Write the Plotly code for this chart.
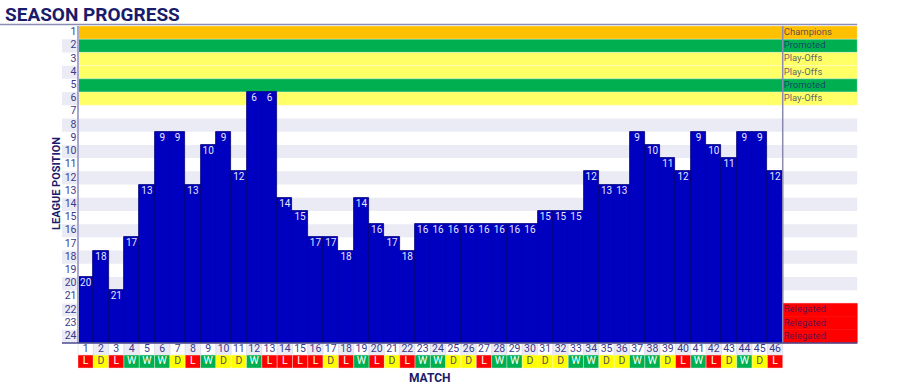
import plotly.graph_objects as go

# ---------------- data ----------------
matches = list(range(1, 47))
positions = [20, 18, 21, 17, 13, 9, 9, 13, 10, 9, 12, 6, 6, 14, 15, 17, 17, 18, 14, 16,
             17, 18, 16, 16, 16, 16, 16, 16, 16, 16, 15, 15, 15, 12, 13, 13, 9, 10, 11, 12,
             9, 10, 11, 9, 9, 12]
results = ["L", "D", "L", "W", "W", "W", "D", "L", "W", "D", "D", "W", "L", "L", "L", "L",
           "D", "L", "W", "L", "D", "L", "W", "W", "D", "D", "L", "W", "W", "D", "D", "D",
           "W", "W", "D", "D", "W", "W", "D", "L", "W", "L", "D", "W", "D", "L"]
league_rows = list(range(1, 25))
zone_rows = [1, 2, 3, 4, 5, 6, 22, 23, 24]
zone_names = ["Champions", "Promoted", "Play-Offs", "Play-Offs", "Promoted", "Play-Offs",
              "Relegated", "Relegated", "Relegated"]

# ---------------- styles ----------------
zone_colors = {"Champions": "#FFC000", "Promoted": "#00B050", "Play-Offs": "#FFFF66",
               "Relegated": "#FF0000"}
result_colors = {"W": "#00B050", "D": "#FFFF00", "L": "#FF0000"}
result_text = {"W": "white", "D": "rgba(30,30,110,0.8)", "L": "white"}
NAVY = "#1B1B6B"
TICK = "#3A3A8C"
STRIPE = "#EBEBF5"
BAR = "#0000C0"
FONT = "Roboto"

n = len(matches)
px_x = 15.32          # pixels per match
px_y = 13.21          # pixels per league row
x_left = 0.5 - 78 / px_x
x_right = 0.5 + 822 / px_x
y_top = 0.5 - 26 / px_y
y_bot = 0.5 + 360 / px_y
lab_x0 = 0.5 - 16 / px_x            # left edge of tick label column
zone_x1 = n + 0.5 + 74.5 / px_x      # right edge of zone label column
num_y0, num_y1 = 24.5, 24.5 + 12 / px_y
res_y0, res_y1 = num_y1, num_y1 + 13 / px_y

shapes = []
for r in league_rows:
    if r % 2 == 0:
        shapes.append(dict(type="rect", xref="x", yref="y", x0=lab_x0, x1=zone_x1,
                           y0=r - 0.5, y1=r + 0.5, fillcolor=STRIPE, line_width=0,
                           layer="below"))
for r, name in zip(zone_rows, zone_names):
    rel = name == "Relegated"
    x0 = n + 0.5 if rel else 0.5
    shapes.append(dict(type="rect", xref="x", yref="y", x0=x0, x1=zone_x1,
                       y0=r - 0.5, y1=r + 0.5, fillcolor=zone_colors[name],
                       line=dict(color=zone_colors[name] if rel else "rgba(255,255,255,0.5)",
                                 width=0.6), layer="below"))
for m, res in zip(matches, results):
    shapes.append(dict(type="rect", xref="x", yref="y", x0=m - 0.5, x1=m + 0.5,
                       y0=num_y0, y1=num_y1,
                       fillcolor=STRIPE if m % 2 == 0 else "white",
                       line=dict(color="#D8D8E4", width=0.6), layer="below"))
    shapes.append(dict(type="rect", xref="x", yref="y", x0=m - 0.5, x1=m + 0.5,
                       y0=res_y0, y1=res_y1, fillcolor=result_colors[res],
                       line=dict(color="rgba(255,255,255,0.6)", width=0.6), layer="below"))
shapes += [
    dict(type="line", xref="x", yref="y", x0=x_left, x1=zone_x1, y0=y_top + 24.6 / px_y,
         y1=y_top + 24.6 / px_y, line=dict(color="#8C8CB4", width=1.5)),
    dict(type="line", xref="x", yref="y", x0=0.5, x1=0.5, y0=0.5, y1=24.5,
         line=dict(color="#A8A8D0", width=2)),
    dict(type="line", xref="x", yref="y", x0=n + 0.5, x1=n + 0.5, y0=0.5, y1=24.5,
         line=dict(color="#8A8AAE", width=1.5)),
    dict(type="line", xref="x", yref="y", x0=lab_x0, x1=zone_x1, y0=24.5, y1=24.5,
         line=dict(color="#4A4A90", width=1.5)),
]

fig = go.Figure()
fig.add_trace(go.Bar(
    x=matches, y=[p - 24.5 - 0.5 for p in positions], base=24.5, width=1,
    marker=dict(color=BAR, line=dict(color="#00007A", width=0.8)),
    hoverinfo="skip", showlegend=False))
fig.add_trace(go.Scatter(
    x=matches, y=positions, mode="text", text=[str(p) for p in positions],
    textfont=dict(family=FONT, size=10, color="#E6E6FF"),
    hoverinfo="skip", showlegend=False))
fig.add_trace(go.Scatter(
    x=[0.5 - 1.5 / px_x] * len(league_rows), y=league_rows, mode="text",
    text=[str(r) for r in league_rows], textposition="middle left",
    textfont=dict(family=FONT, size=10.5, color=TICK),
    hoverinfo="skip", showlegend=False))
fig.add_trace(go.Scatter(
    x=[n + 0.5 + 1.0 / px_x] * len(zone_rows), y=zone_rows, mode="text",
    text=zone_names, textposition="middle right",
    textfont=dict(family=FONT, size=9.5, color="rgba(25,25,110,0.72)"),
    hoverinfo="skip", showlegend=False))
fig.add_trace(go.Scatter(
    x=matches, y=[(num_y0 + num_y1) / 2] * n, mode="text",
    text=[str(m) for m in matches],
    textfont=dict(family=FONT, size=10.5, color=TICK),
    hoverinfo="skip", showlegend=False))
fig.add_trace(go.Scatter(
    x=matches, y=[(res_y0 + res_y1) / 2] * n, mode="text", text=results,
    textfont=dict(family=FONT, size=10.5, color=[result_text[r] for r in results]),
    hoverinfo="skip", showlegend=False))

fig.update_layout(
    width=900, height=386, margin=dict(l=0, r=0, t=0, b=0),
    plot_bgcolor="white", paper_bgcolor="white",
    xaxis=dict(range=[x_left, x_right], visible=False, fixedrange=True),
    yaxis=dict(range=[y_bot, y_top], visible=False, fixedrange=True),
    shapes=shapes, bargap=0,
    annotations=[
        dict(text="<b>SEASON PROGRESS</b>", xref="paper", yref="paper",
             x=3 / 900, y=1 - 14 / 386, xanchor="left", yanchor="middle",
             showarrow=False, font=dict(family=FONT, size=19, color=NAVY)),
        dict(text="<b>LEAGUE POSITION</b>", xref="paper", yref="paper",
             x=57 / 900, y=1 - 184 / 386, xanchor="center", yanchor="middle",
             showarrow=False, textangle=-90,
             font=dict(family=FONT, size=11, color=NAVY)),
        dict(text="<b>MATCH</b>", xref="paper", yref="paper",
             x=430 / 900, y=1 - 378 / 386, xanchor="center", yanchor="middle",
             showarrow=False, font=dict(family=FONT, size=12, color=NAVY)),
    ],
)
fig.write_html("out.html")
